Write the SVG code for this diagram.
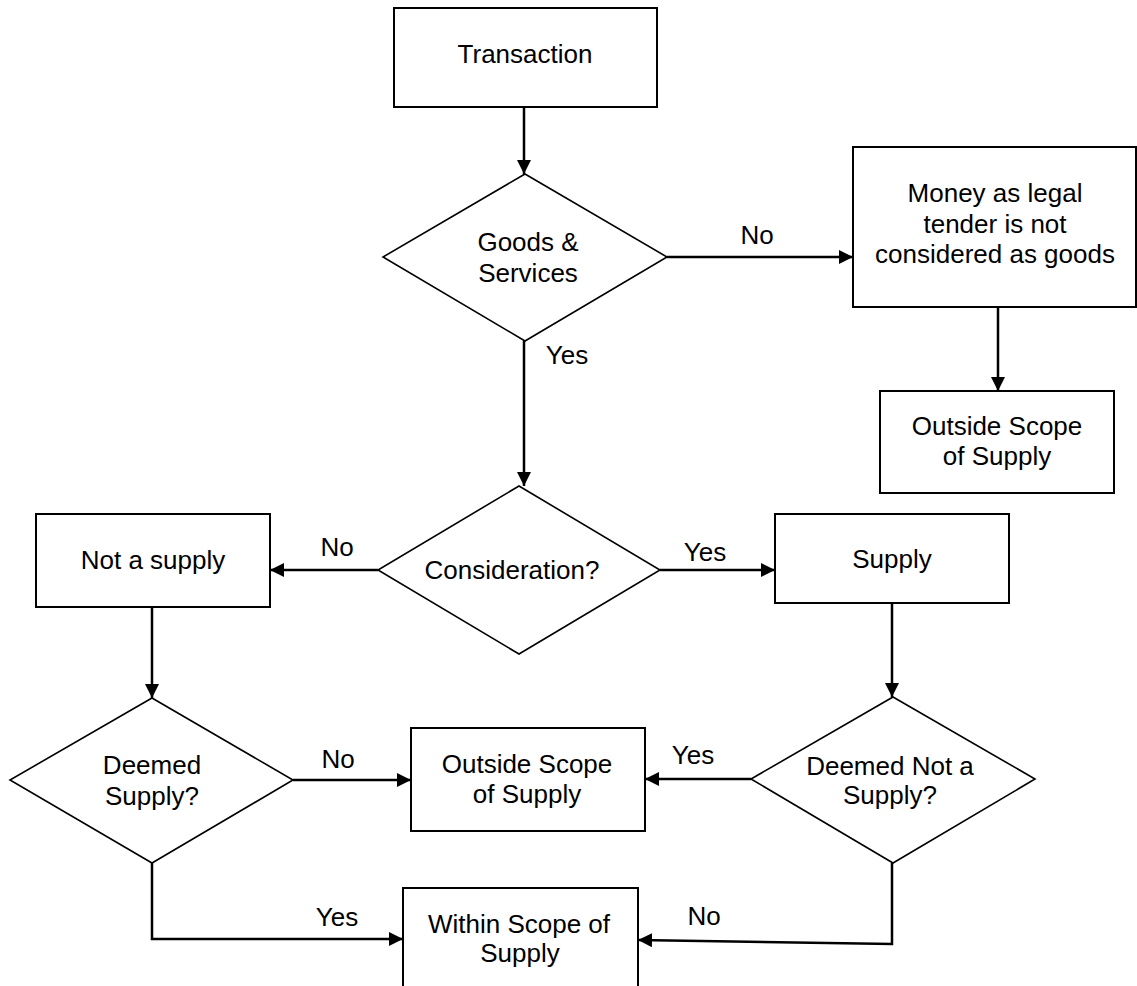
<svg xmlns="http://www.w3.org/2000/svg" width="1137" height="986" viewBox="0 0 1137 986">
<style>
.box{fill:#fff;stroke:#000;stroke-width:2}
.dia{fill:#fff;stroke:#000;stroke-width:1.6}
.t{font-family:"Liberation Sans",Arial,sans-serif;font-size:26px;fill:#000;text-anchor:middle}
.c{fill:none;stroke:#000;stroke-width:2.5;marker-end:url(#ah)}
</style>
<defs>
<marker id="ah" viewBox="0 0 14 14" refX="14" refY="7" markerWidth="14" markerHeight="14" markerUnits="userSpaceOnUse" orient="auto">
<path d="M0,0 L14,7 L0,14 z" fill="#000"/>
</marker>
</defs>
<rect width="1137" height="986" fill="#fff"/>
<g id="connectors">
<path class="c" d="M524,107 V174"/>
<path class="c" d="M667,257 H853"/>
<path class="c" d="M998,307 V391"/>
<path class="c" d="M524,341 V486"/>
<path class="c" d="M378,570 H270"/>
<path class="c" d="M660,570 H775"/>
<path class="c" d="M152,607 V698"/>
<path class="c" d="M892,603 V697"/>
<path class="c" d="M293,780 H411"/>
<path class="c" d="M751,779 H645"/>
<path class="c" d="M152,863 V939 H403"/>
<path class="c" d="M892,863 V944 L638,940"/>
<text class="t" x="757" y="244">No</text>
<text class="t" x="567" y="364">Yes</text>
<text class="t" x="337" y="556">No</text>
<text class="t" x="705" y="561">Yes</text>
<text class="t" x="338" y="768">No</text>
<text class="t" x="693" y="764">Yes</text>
<text class="t" x="337" y="926">Yes</text>
<text class="t" x="704" y="925">No</text>
</g>
<g id="transaction">
<rect class="box" x="394" y="8" width="263" height="99"/>
<text class="t" x="525" y="63">Transaction</text>
</g>
<g id="goods-services">
<polygon class="dia" points="525,174 667,257 525,341 383,257"/>
<text class="t" x="528" y="251">Goods &amp;</text>
<text class="t" x="528" y="282">Services</text>
</g>
<g id="money">
<rect class="box" x="853" y="147" width="283" height="160"/>
<text class="t" x="995" y="202">Money as legal</text>
<text class="t" x="995" y="233">tender is not</text>
<text class="t" x="995" y="263">considered as goods</text>
</g>
<g id="outside-scope-1">
<rect class="box" x="880" y="391" width="234" height="102"/>
<text class="t" x="997" y="435">Outside Scope</text>
<text class="t" x="997" y="465">of Supply</text>
</g>
<g id="consideration">
<polygon class="dia" points="519,486 660,570 519,654 378,570"/>
<text class="t" x="512" y="579">Consideration?</text>
</g>
<g id="not-a-supply">
<rect class="box" x="36" y="514" width="234" height="93"/>
<text class="t" x="153" y="569">Not a supply</text>
</g>
<g id="supply">
<rect class="box" x="775" y="514" width="234" height="89"/>
<text class="t" x="892" y="568">Supply</text>
</g>
<g id="deemed-supply">
<polygon class="dia" points="152,698 293,780 152,863 10,780"/>
<text class="t" x="152" y="774">Deemed</text>
<text class="t" x="152" y="805">Supply?</text>
</g>
<g id="deemed-not-a-supply">
<polygon class="dia" points="893,697 1035,779 893,863 751,779"/>
<text class="t" x="890" y="775">Deemed Not a</text>
<text class="t" x="890" y="804">Supply?</text>
</g>
<g id="outside-scope-2">
<rect class="box" x="411" y="728" width="234" height="103"/>
<text class="t" x="527" y="773">Outside Scope</text>
<text class="t" x="527" y="803">of Supply</text>
</g>
<g id="within-scope">
<rect class="box" x="403" y="888" width="235" height="120"/>
<text class="t" x="519" y="933">Within Scope of</text>
<text class="t" x="520" y="962">Supply</text>
</g>
</svg>
